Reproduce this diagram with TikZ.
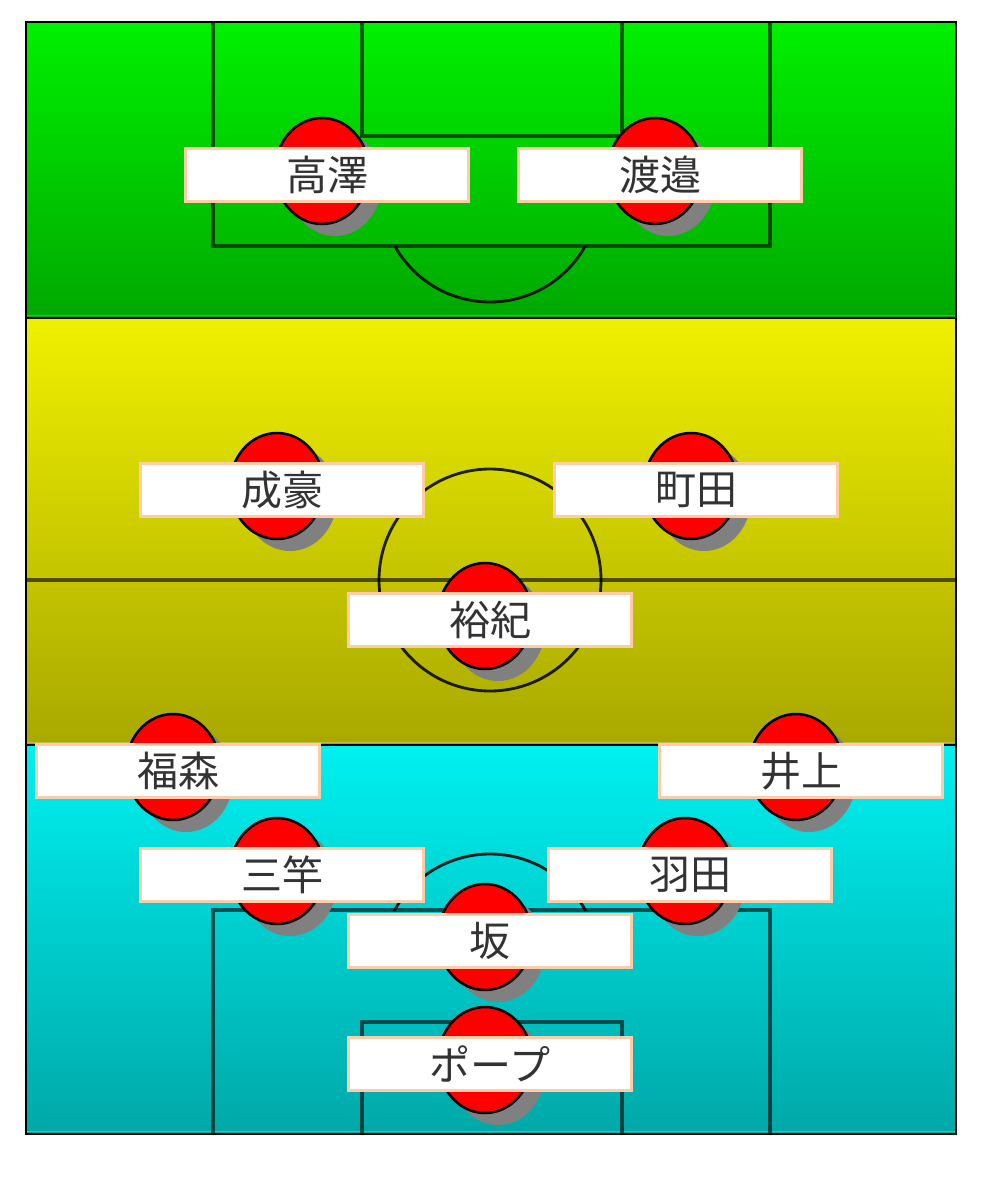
\documentclass[tikz,border=0pt]{standalone}
\usepackage{fontspec}
\setmainfont{Noto Sans CJK JP}
\usetikzlibrary{shapes.geometric}
\definecolor{grtop}{HTML}{00F000}
\definecolor{grbot}{HTML}{00A800}
\definecolor{yetop}{HTML}{F0F000}
\definecolor{yebot}{HTML}{A8A800}
\definecolor{cytop}{HTML}{00F0F0}
\definecolor{cybot}{HTML}{00A8A8}
\definecolor{peach}{HTML}{FFCCAA}
\definecolor{txt}{HTML}{333333}
\definecolor{shadowgray}{HTML}{808080}
\tikzset{
  fieldline/.style={draw=black, draw opacity=0.6, line width=4pt},
  arcline/.style={draw=black, line width=2.8pt, draw opacity=0.85},
  divider/.style={draw=black, line width=2.5pt},
  player/.style={ellipse, fill=red, draw=black, line width=2.5pt, minimum width=94pt, minimum height=106pt, inner sep=0pt},
  playershadow/.style={ellipse, fill=shadowgray, minimum width=94pt, minimum height=106pt, inner sep=0pt},
  namebox/.style={rectangle, fill=white, draw=peach, line width=3.3pt, minimum width=282.5pt, minimum height=53.5pt, inner sep=0pt, text=txt, font=\fontsize{41}{48}\selectfont},
}
\begin{document}
\begin{tikzpicture}[x=1pt,y=-1pt]
\useasboundingbox (0,0) rectangle (991,1177);
\fill[white] (0,0) rectangle (991,1177);
% backgrounds
\shade[top color=grtop, bottom color=grbot] (26,22) rectangle (956,318);
\shade[top color=yetop, bottom color=yebot] (26,318) rectangle (956,745);
\shade[top color=cytop, bottom color=cybot] (26,745) rectangle (956,1134);
% light lines at section bottoms
\draw[white, opacity=0.25, line width=1.5pt] (27,315.5) -- (955,315.5);
\draw[white, opacity=0.25, line width=1.5pt] (27,742.5) -- (955,742.5);
\draw[white, opacity=0.25, line width=1.5pt] (27,1131.5) -- (955,1131.5);
% top penalty area
\draw[fieldline] (213,22) -- (213,246) -- (770,246) -- (770,22);
\draw[fieldline] (362,22) -- (362,136) -- (622,136) -- (622,22);
\begin{scope}
  \clip (26,246) rectangle (956,318);
  \draw[arcline] (490,193) circle[radius=109];
\end{scope}
% halfway line and centre circle
\draw[draw=black, draw opacity=0.6, line width=4.5pt] (26,580) -- (956,580);
\draw[arcline] (490,580) circle[radius=111];
% bottom penalty area
\draw[fieldline] (213,1134) -- (213,910) -- (770,910) -- (770,1134);
\draw[fieldline] (362,1134) -- (362,1022) -- (622,1022) -- (622,1134);
\begin{scope}
  \clip (26,745) rectangle (956,910);
  \draw[arcline] (490,963) circle[radius=109];
\end{scope}
% dividers and frame
\draw[divider] (26,318) -- (956,318);
\draw[divider] (26,745) -- (956,745);
\draw[divider] (26,22) rectangle (956,1134);
% players
\foreach \n/\bx/\by/\t in {
  a/327/175/高澤, b/660/175/渡邉,
  c/282/490/成豪, d/696/490/町田, e/490/620/裕紀,
  f/178/771/福森, g/801/771/井上,
  h/282/875/三竿, i/690/875/羽田,
  j/490/941/坂, k/490/1064/ポープ}{
  \node[playershadow] (s\n) at (\bx+8,\by+8) {};
  \node[player] (c\n) at (\bx-5,\by-4) {};
}
\foreach \n/\bx/\by/\t in {
  a/327/175/高澤, b/660/175/渡邉,
  c/282/490/成豪, d/696/490/町田, e/490/620/裕紀,
  f/178/771/福森, g/801/771/井上,
  h/282/875/三竿, i/690/875/羽田,
  j/490/941/坂, k/490/1064/ポープ}{
  \node[namebox] (l\n) at (\bx,\by) {\t};
}
\end{tikzpicture}
\end{document}
